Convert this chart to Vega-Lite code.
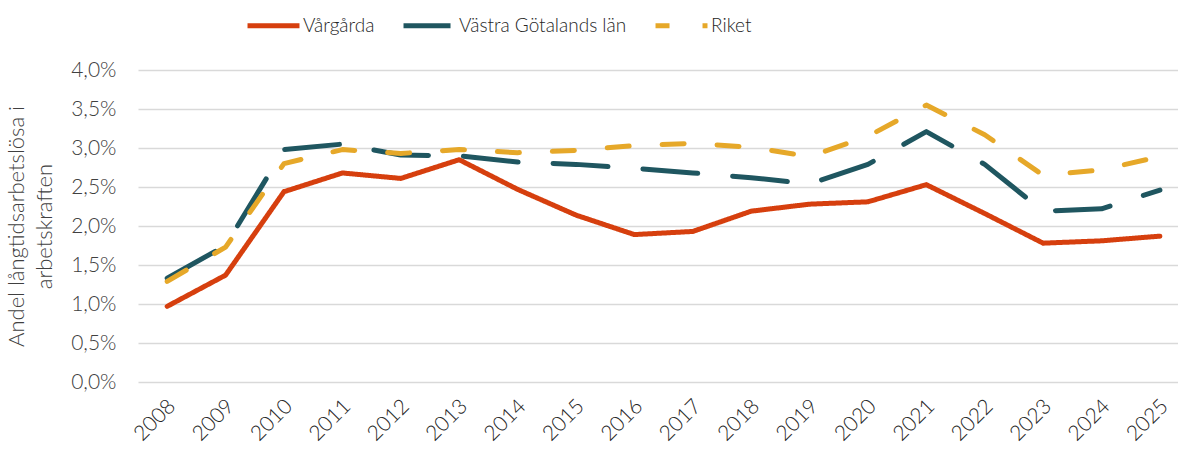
{
  "$schema": "https://vega.github.io/schema/vega-lite/v6.json",
  "width": 1040,
  "height": 312,
  "autosize": {"type": "none"},
  "padding": {"left": 138, "top": 70, "right": 0, "bottom": 68},
  "background": "white",
  "config": {"font": "Lato", "view": {"stroke": null}},
  "data": {
    "values": [
      {"year": 2008, "series": "Vårgårda", "value": 0.97},
      {"year": 2009, "series": "Vårgårda", "value": 1.37},
      {"year": 2010, "series": "Vårgårda", "value": 2.44},
      {"year": 2011, "series": "Vårgårda", "value": 2.68},
      {"year": 2012, "series": "Vårgårda", "value": 2.61},
      {"year": 2013, "series": "Vårgårda", "value": 2.85},
      {"year": 2014, "series": "Vårgårda", "value": 2.47},
      {"year": 2015, "series": "Vårgårda", "value": 2.14},
      {"year": 2016, "series": "Vårgårda", "value": 1.89},
      {"year": 2017, "series": "Vårgårda", "value": 1.93},
      {"year": 2018, "series": "Vårgårda", "value": 2.19},
      {"year": 2019, "series": "Vårgårda", "value": 2.28},
      {"year": 2020, "series": "Vårgårda", "value": 2.31},
      {"year": 2021, "series": "Vårgårda", "value": 2.53},
      {"year": 2022, "series": "Vårgårda", "value": 2.16},
      {"year": 2023, "series": "Vårgårda", "value": 1.78},
      {"year": 2024, "series": "Vårgårda", "value": 1.81},
      {"year": 2025, "series": "Vårgårda", "value": 1.87},
      {"year": 2008, "series": "Västra Götalands län", "value": 1.33},
      {"year": 2009, "series": "Västra Götalands län", "value": 1.75},
      {"year": 2010, "series": "Västra Götalands län", "value": 2.98},
      {"year": 2011, "series": "Västra Götalands län", "value": 3.05},
      {"year": 2012, "series": "Västra Götalands län", "value": 2.91},
      {"year": 2013, "series": "Västra Götalands län", "value": 2.90},
      {"year": 2014, "series": "Västra Götalands län", "value": 2.82},
      {"year": 2015, "series": "Västra Götalands län", "value": 2.79},
      {"year": 2016, "series": "Västra Götalands län", "value": 2.74},
      {"year": 2017, "series": "Västra Götalands län", "value": 2.68},
      {"year": 2018, "series": "Västra Götalands län", "value": 2.62},
      {"year": 2019, "series": "Västra Götalands län", "value": 2.54},
      {"year": 2020, "series": "Västra Götalands län", "value": 2.79},
      {"year": 2021, "series": "Västra Götalands län", "value": 3.21},
      {"year": 2022, "series": "Västra Götalands län", "value": 2.79},
      {"year": 2023, "series": "Västra Götalands län", "value": 2.19},
      {"year": 2024, "series": "Västra Götalands län", "value": 2.22},
      {"year": 2025, "series": "Västra Götalands län", "value": 2.46},
      {"year": 2008, "series": "Riket", "value": 1.29},
      {"year": 2009, "series": "Riket", "value": 1.73},
      {"year": 2010, "series": "Riket", "value": 2.80},
      {"year": 2011, "series": "Riket", "value": 2.98},
      {"year": 2012, "series": "Riket", "value": 2.93},
      {"year": 2013, "series": "Riket", "value": 2.98},
      {"year": 2014, "series": "Riket", "value": 2.94},
      {"year": 2015, "series": "Riket", "value": 2.97},
      {"year": 2016, "series": "Riket", "value": 3.03},
      {"year": 2017, "series": "Riket", "value": 3.06},
      {"year": 2018, "series": "Riket", "value": 3.01},
      {"year": 2019, "series": "Riket", "value": 2.89},
      {"year": 2020, "series": "Riket", "value": 3.15},
      {"year": 2021, "series": "Riket", "value": 3.55},
      {"year": 2022, "series": "Riket", "value": 3.17},
      {"year": 2023, "series": "Riket", "value": 2.65},
      {"year": 2024, "series": "Riket", "value": 2.72},
      {"year": 2025, "series": "Riket", "value": 2.89}
    ]
  },
  "mark": {"type": "line", "strokeWidth": 5, "strokeCap": "round", "strokeJoin": "round"},
  "encoding": {
    "x": {
      "field": "year",
      "type": "quantitative",
      "scale": {"domain": [2007.5, 2025.31], "nice": false, "zero": false},
      "axis": {
        "values": [2008, 2009, 2010, 2011, 2012, 2013, 2014, 2015, 2016, 2017, 2018, 2019, 2020, 2021, 2022, 2023, 2024, 2025],
        "format": "d",
        "labelAngle": -45,
        "labelOverlap": false,
        "labelFlush": false,
        "labelBound": false,
        "grid": false,
        "domain": false,
        "ticks": false,
        "title": null,
        "labelFontSize": 21,
        "labelFontWeight": 300,
        "labelColor": "#262626",
        "labelPadding": 13,
        "labelOffset": -3
      }
    },
    "y": {
      "field": "value",
      "type": "quantitative",
      "scale": {"domain": [0, 4], "nice": false},
      "axis": {
        "values": [0, 0.5, 1, 1.5, 2, 2.5, 3, 3.5, 4],
        "labelExpr": "replace(format(datum.value, '.1f'), '.', ',') + '%'",
        "domain": false,
        "ticks": false,
        "gridColor": "#d9d9d9",
        "gridWidth": 1.5,
        "labelFontSize": 21,
        "labelFontWeight": 300,
        "labelColor": "#404040",
        "labelPadding": 22,
        "title": ["Andel långtidsarbetslösa i", "arbetskraften"],
        "titleFontSize": 22,
        "titleFontWeight": 300,
        "titleColor": "#404040",
        "titlePadding": 14,
        "titleLineHeight": 28
      }
    },
    "color": {
      "field": "series",
      "type": "nominal",
      "scale": {
        "domain": ["Vårgårda", "Västra Götalands län", "Riket"],
        "range": ["#d63f0e", "#1f5660", "#e6a829"]
      },
      "legend": {
        "orient": "none",
        "legendX": 107,
        "legendY": -73,
        "direction": "horizontal",
        "title": null,
        "symbolType": "stroke",
        "symbolSize": 2700,
        "symbolStrokeWidth": 5,
        "symbolDashOffset": 8,
        "labelFontSize": 19,
        "labelFontWeight": 300,
        "labelColor": "#262626",
        "labelOffset": 1,
        "columnPadding": 18,
        "labelLimit": 400
      }
    },
    "strokeDash": {
      "field": "series",
      "type": "nominal",
      "scale": {
        "domain": ["Vårgårda", "Västra Götalands län", "Riket"],
        "range": [[1, 0], [55, 35], [22, 33]]
      },
      "legend": {
        "orient": "none",
        "legendX": 107,
        "legendY": -73,
        "direction": "horizontal",
        "title": null,
        "symbolType": "stroke",
        "symbolSize": 2700,
        "symbolStrokeWidth": 5,
        "symbolDashOffset": 8,
        "labelFontSize": 19,
        "labelFontWeight": 300,
        "labelColor": "#262626",
        "labelOffset": 1,
        "columnPadding": 18,
        "labelLimit": 400
      }
    }
  }
}
